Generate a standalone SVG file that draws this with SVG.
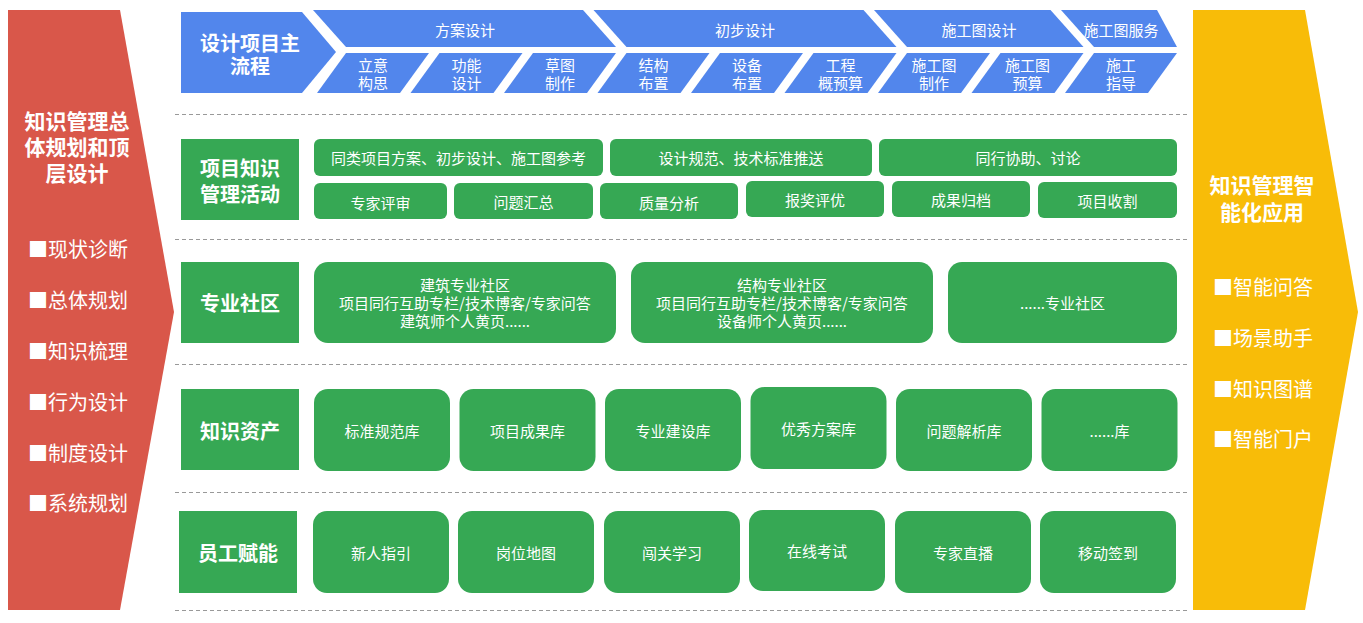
<svg xmlns="http://www.w3.org/2000/svg" width="1363" height="623" viewBox="0 0 1363 623">
<style>
.t{fill:#fff;font-family:"Noto Sans CJK SC","Noto Sans",sans-serif;font-size:15px;text-anchor:middle;dominant-baseline:central}
.b{font-weight:bold;font-size:20px}
.h{font-weight:bold;font-size:21px}
.l{font-size:20px;text-anchor:start}
.blue{fill:#5286EC}
.green{fill:#36A854}
.sep{stroke:#999;stroke-width:1;stroke-dasharray:4 3;fill:none}
</style>
<rect width="1363" height="623" fill="#fff"/>
<g id="separators">
<line class="sep" x1="175" y1="114.5" x2="1187" y2="114.5"/>
<line class="sep" x1="175" y1="239.5" x2="1187" y2="239.5"/>
<line class="sep" x1="175" y1="364.5" x2="1187" y2="364.5"/>
<line class="sep" x1="175" y1="492.5" x2="1187" y2="492.5"/>
<line class="sep" x1="175" y1="610.5" x2="1187" y2="610.5"/>
</g>
<g id="left-arrow">
<polygon points="8,10 120,10 174,312 120,610 8,610" fill="#D9574A"/>
<text class="t h" x="77" y="120">知识管理总</text>
<text class="t h" x="77" y="146">体规划和顶</text>
<text class="t h" x="77" y="172">层设计</text>
<text class="t l" x="28" y="248">■现状诊断</text>
<text class="t l" x="28" y="299">■总体规划</text>
<text class="t l" x="28" y="350">■知识梳理</text>
<text class="t l" x="28" y="401">■行为设计</text>
<text class="t l" x="28" y="452">■制度设计</text>
<text class="t l" x="28" y="502">■系统规划</text>
</g>
<g id="right-arrow">
<polygon points="1193,10 1305,10 1358,312 1305,610 1193,610" fill="#F8BC08"/>
<text class="t h" x="1262" y="184">知识管理智</text>
<text class="t h" x="1262" y="211">能化应用</text>
<text class="t l" x="1213" y="286">■智能问答</text>
<text class="t l" x="1213" y="337">■场景助手</text>
<text class="t l" x="1213" y="388">■知识图谱</text>
<text class="t l" x="1213" y="438">■智能门户</text>
</g>
<g id="process">
<g id="process-title">
<polygon class="blue" points="181,12 302,12 336,52 302,93 181,93"/>
<text class="t b" x="250" y="42">设计项目主</text>
<text class="t b" x="250" y="65">流程</text>
</g>
<g id="stage-1"><polygon class="blue" points="313,10 583,10 616,47 346,47"/><text class="t" x="465" y="29">方案设计</text></g>
<g id="stage-2"><polygon class="blue" points="593.5,10 863.5,10 896.5,47 626.5,47"/><text class="t" x="745" y="29">初步设计</text></g>
<g id="stage-3"><polygon class="blue" points="874,10 1050.5,10 1083.5,47 907,47"/><text class="t" x="979" y="29">施工图设计</text></g>
<g id="stage-4"><polygon class="blue" points="1061,10 1157,10 1177,47 1094,47"/><text class="t" x="1121" y="29">施工图服务</text></g>
<g id="step-1"><polygon class="blue" points="346,53 429,53 400,93 317,93"/><text class="t" x="373" y="64">立意</text><text class="t" x="373" y="82">构思</text></g>
<g id="step-2"><polygon class="blue" points="439.5,53 522.5,53 493.5,93 410.5,93"/><text class="t" x="466.5" y="64">功能</text><text class="t" x="466.5" y="82">设计</text></g>
<g id="step-3"><polygon class="blue" points="533,53 616,53 587,93 504,93"/><text class="t" x="560" y="64">草图</text><text class="t" x="560" y="82">制作</text></g>
<g id="step-4"><polygon class="blue" points="626.5,53 709.5,53 680.5,93 597.5,93"/><text class="t" x="653.5" y="64">结构</text><text class="t" x="653.5" y="82">布置</text></g>
<g id="step-5"><polygon class="blue" points="720,53 803,53 774,93 691,93"/><text class="t" x="747" y="64">设备</text><text class="t" x="747" y="82">布置</text></g>
<g id="step-6"><polygon class="blue" points="813.5,53 896.5,53 867.5,93 784.5,93"/><text class="t" x="840.5" y="64">工程</text><text class="t" x="840.5" y="82">概预算</text></g>
<g id="step-7"><polygon class="blue" points="907,53 990,53 961,93 878,93"/><text class="t" x="934" y="64">施工图</text><text class="t" x="934" y="82">制作</text></g>
<g id="step-8"><polygon class="blue" points="1000.5,53 1083.5,53 1054.5,93 971.5,93"/><text class="t" x="1027.5" y="64">施工图</text><text class="t" x="1027.5" y="82">预算</text></g>
<g id="step-9"><polygon class="blue" points="1094,53 1177,53 1148,93 1065,93"/><text class="t" x="1121" y="64">施工</text><text class="t" x="1121" y="82">指导</text></g>
</g>
<g id="row-activities">
<g id="activities-label"><rect class="green" x="181" y="139" width="118" height="81"/><text class="t b" x="240" y="167">项目知识</text><text class="t b" x="240" y="193">管理活动</text></g>
<g id="a1"><rect class="green" x="314" y="139" width="289" height="37" rx="6"/><text class="t" x="458.5" y="157">同类项目方案、初步设计、施工图参考</text></g>
<g id="a2"><rect class="green" x="610" y="139" width="262" height="37" rx="6"/><text class="t" x="741" y="157">设计规范、技术标准推送</text></g>
<g id="a3"><rect class="green" x="879" y="139" width="298" height="37" rx="6"/><text class="t" x="1028" y="157">同行协助、讨论</text></g>
<g id="a4"><rect class="green" x="314" y="183" width="133" height="36" rx="6"/><text class="t" x="380.5" y="202">专家评审</text></g>
<g id="a5"><rect class="green" x="454" y="183" width="139" height="36" rx="6"/><text class="t" x="523.5" y="201">问题汇总</text></g>
<g id="a6"><rect class="green" x="600" y="183" width="138" height="36" rx="6"/><text class="t" x="669" y="202">质量分析</text></g>
<g id="a7"><rect class="green" x="746" y="181" width="138" height="36" rx="6"/><text class="t" x="815" y="199">报奖评优</text></g>
<g id="a8"><rect class="green" x="892" y="181" width="138" height="36" rx="6"/><text class="t" x="961" y="199">成果归档</text></g>
<g id="a9"><rect class="green" x="1038" y="182" width="139" height="36" rx="6"/><text class="t" x="1107.5" y="200">项目收割</text></g>
</g>
<g id="row-community">
<g id="community-label"><rect class="green" x="181" y="262" width="118" height="81"/><text class="t b" x="240" y="302">专业社区</text></g>
<g id="c1"><rect class="green" x="314" y="262" width="302" height="81" rx="14"/><text class="t" x="465" y="284">建筑专业社区</text><text class="t" x="465" y="302">项目同行互助专栏/技术博客/专家问答</text><text class="t" x="465" y="320">建筑师个人黄页......</text></g>
<g id="c2"><rect class="green" x="631" y="262" width="302" height="81" rx="14"/><text class="t" x="782" y="284">结构专业社区</text><text class="t" x="782" y="302">项目同行互助专栏/技术博客/专家问答</text><text class="t" x="782" y="320">设备师个人黄页......</text></g>
<g id="c3"><rect class="green" x="948" y="262" width="229" height="81" rx="14"/><text class="t" x="1062.5" y="302">......专业社区</text></g>
</g>
<g id="row-assets">
<g id="assets-label"><rect class="green" x="181" y="389" width="118" height="81"/><text class="t b" x="240" y="430">知识资产</text></g>
<g id="k1"><rect class="green" x="314" y="389" width="136" height="82" rx="14"/><text class="t" x="382" y="430">标准规范库</text></g>
<g id="k2"><rect class="green" x="459.5" y="389" width="136" height="82" rx="14"/><text class="t" x="527.5" y="430">项目成果库</text></g>
<g id="k3"><rect class="green" x="605" y="389" width="136" height="82" rx="14"/><text class="t" x="673" y="430">专业建设库</text></g>
<g id="k4"><rect class="green" x="750.5" y="387" width="136" height="82" rx="14"/><text class="t" x="818.5" y="428">优秀方案库</text></g>
<g id="k5"><rect class="green" x="896" y="389" width="136" height="82" rx="14"/><text class="t" x="964" y="430">问题解析库</text></g>
<g id="k6"><rect class="green" x="1041.5" y="389" width="136" height="82" rx="14"/><text class="t" x="1109.5" y="430">......库</text></g>
</g>
<g id="row-empower">
<g id="empower-label"><rect class="green" x="179" y="511" width="118" height="82"/><text class="t b" x="238" y="552">员工赋能</text></g>
<g id="e1"><rect class="green" x="313" y="511" width="136" height="82" rx="14"/><text class="t" x="381" y="552">新人指引</text></g>
<g id="e2"><rect class="green" x="458" y="511" width="136" height="82" rx="14"/><text class="t" x="526" y="552">岗位地图</text></g>
<g id="e3"><rect class="green" x="604" y="511" width="136" height="82" rx="14"/><text class="t" x="672" y="552">闯关学习</text></g>
<g id="e4"><rect class="green" x="749" y="510" width="136" height="81" rx="14"/><text class="t" x="817" y="550">在线考试</text></g>
<g id="e5"><rect class="green" x="895" y="511" width="136" height="82" rx="14"/><text class="t" x="963" y="552">专家直播</text></g>
<g id="e6"><rect class="green" x="1040" y="511" width="136" height="82" rx="14"/><text class="t" x="1108" y="552">移动签到</text></g>
</g>
</svg>
